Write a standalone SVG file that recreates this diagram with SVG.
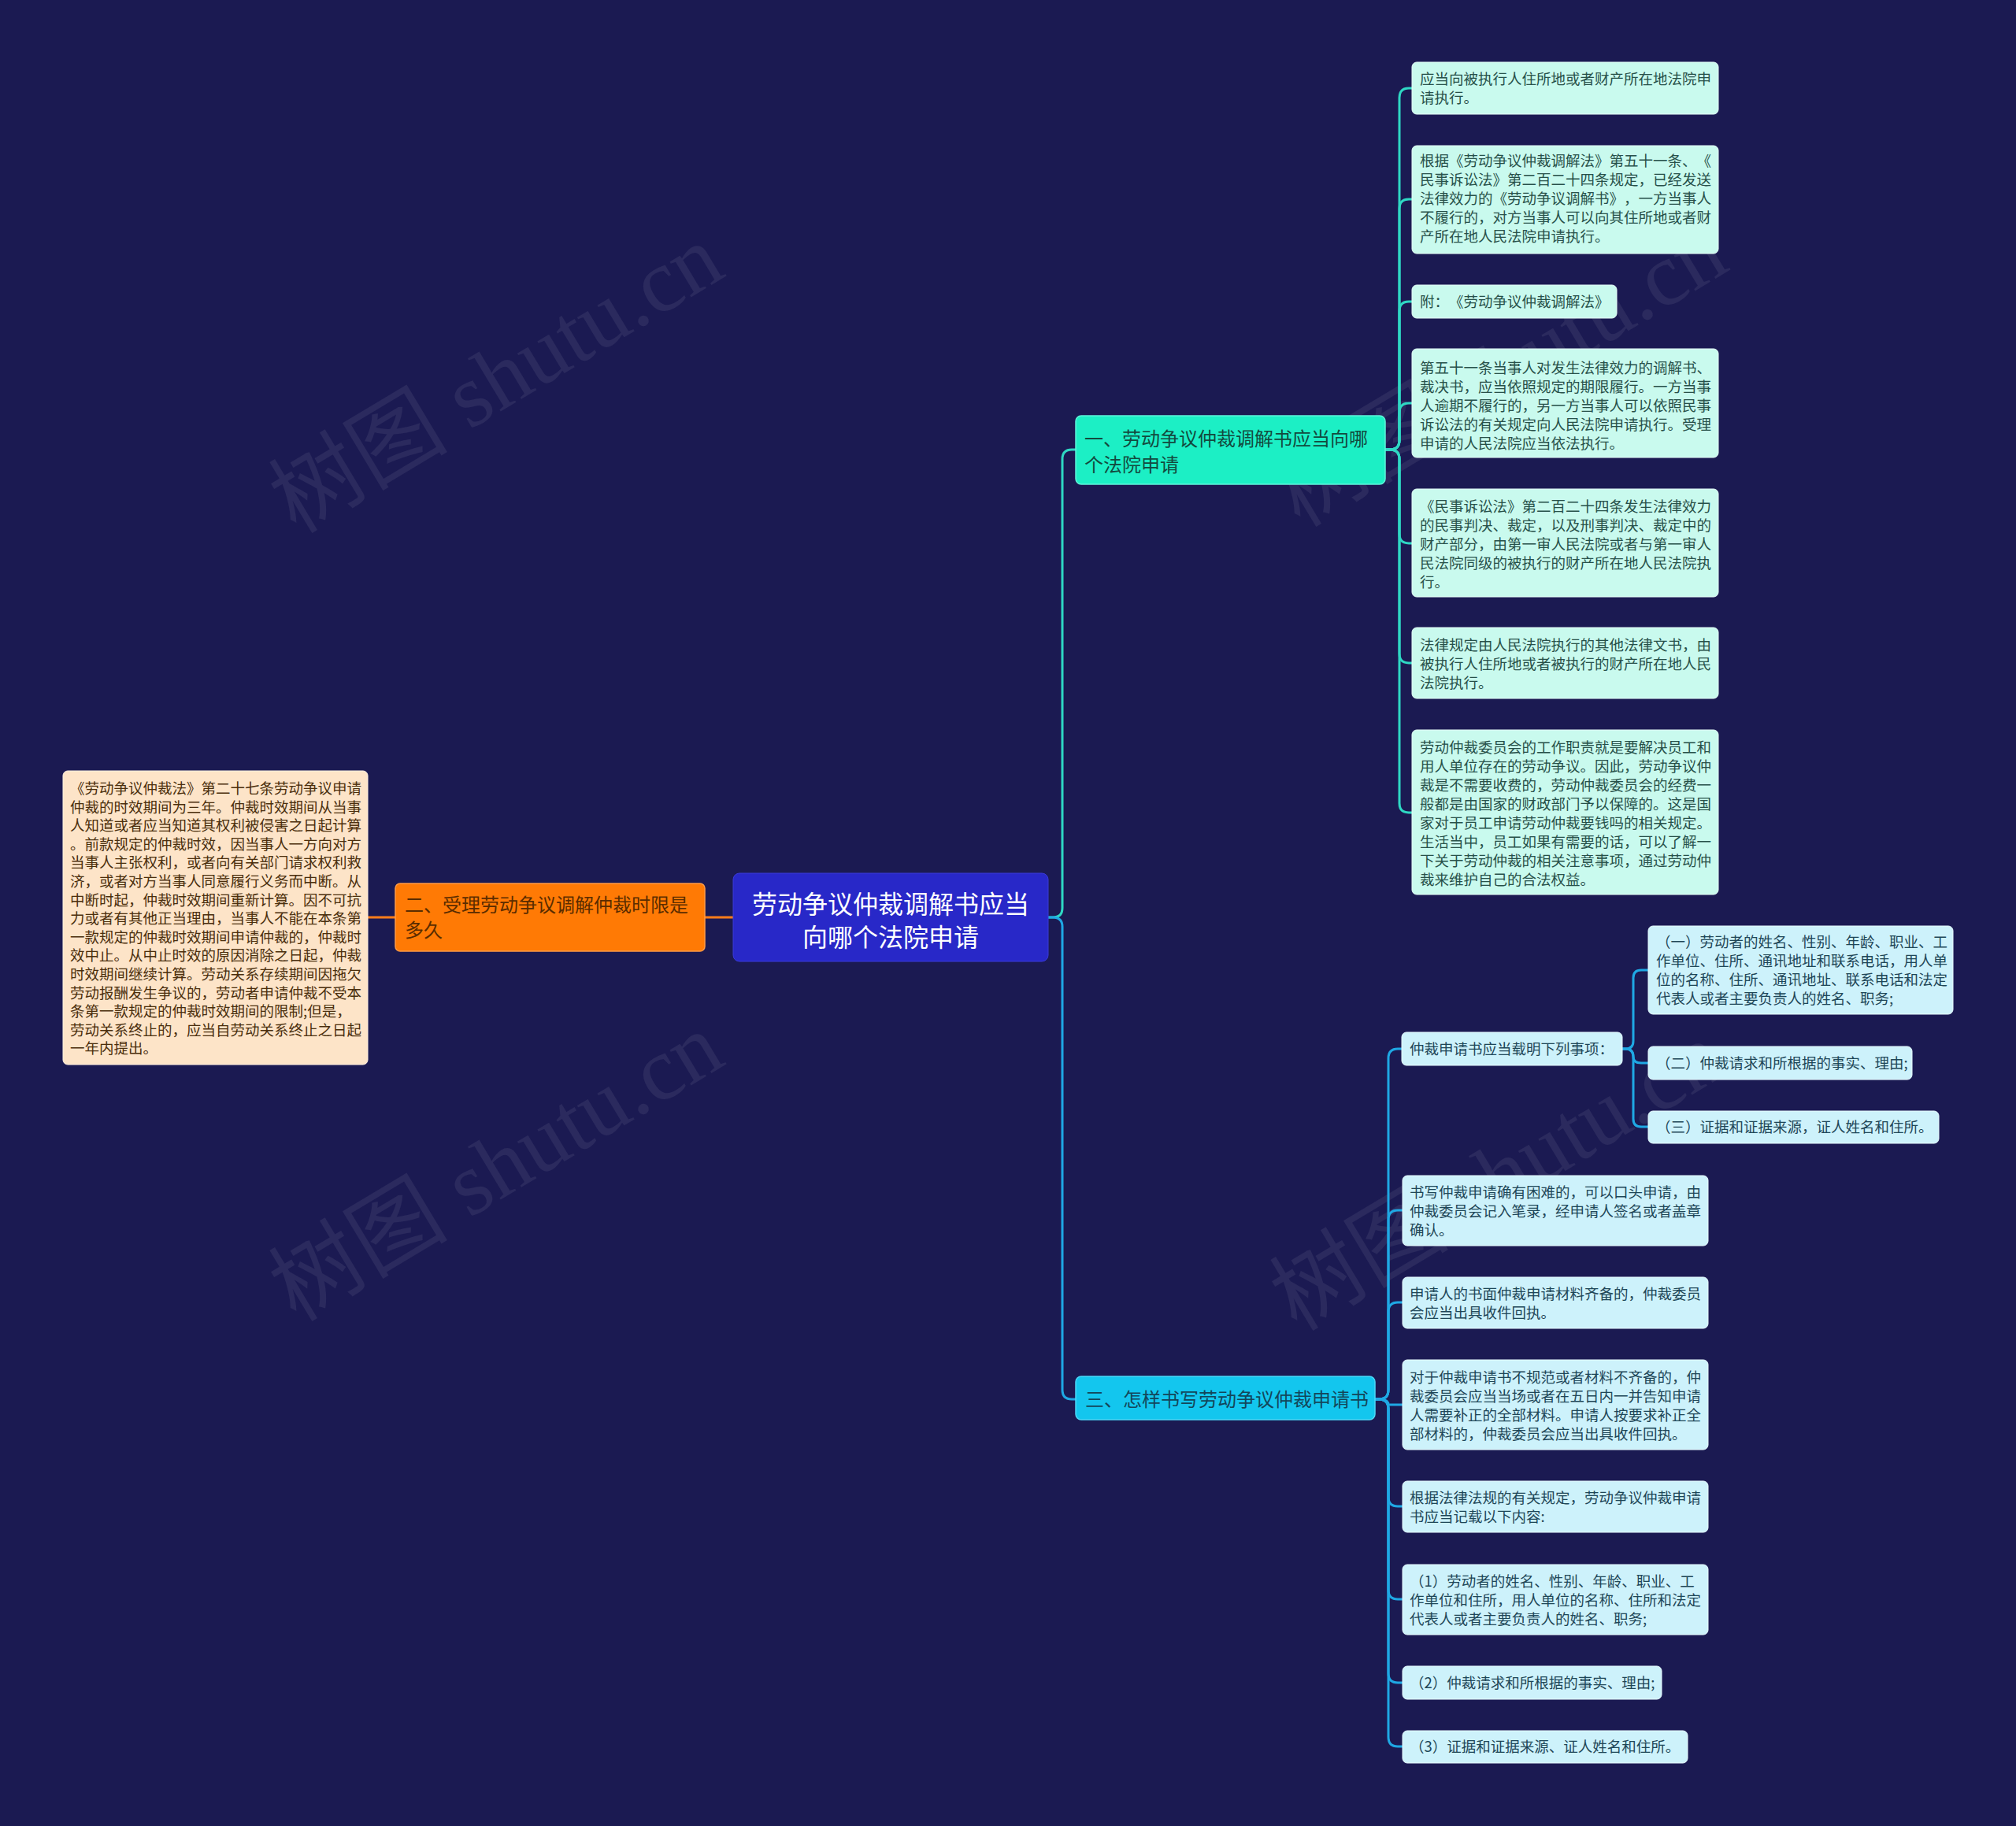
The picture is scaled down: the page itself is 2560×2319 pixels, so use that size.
<svg xmlns="http://www.w3.org/2000/svg" width="2560" height="2319" viewBox="0 0 2560 2319">
<style>
text{font-family:"Noto Sans CJK SC","Noto Sans",sans-serif;text-spacing-trim:space-all}
.wm{font-family:"Liberation Serif","Noto Sans CJK SC",serif;font-size:114px;fill:#ffffff;fill-opacity:0.07}
.t1{font-size:18.5px;fill:#275049}
.t3{font-size:18.5px;fill:#1e4657}
.tb{font-size:18.5px;fill:#4a2e0c}
.k1{fill:#c9faee;stroke:#e6fff8;stroke-width:1}
.k3{fill:#cdf2fb;stroke:#e8fbff;stroke-width:1}
.c1{fill:none;stroke:#2fd8c4;stroke-width:3}
.c3{fill:none;stroke:#1fa8e4;stroke-width:3}
.co{fill:none;stroke:#ff7d1a;stroke-width:3}
</style>
<rect width="2560" height="2319" fill="#1b1a52"/>
<g id="watermarks">
<text class="wm" transform="translate(650,514) rotate(-31)" text-anchor="middle">树图 shutu.cn</text>
<text class="wm" transform="translate(650,1515) rotate(-31)" text-anchor="middle">树图 shutu.cn</text>
<text class="wm" transform="translate(1925,506) rotate(-31)" text-anchor="middle">树图 shutu.cn</text>
<text class="wm" transform="translate(1921,1527) rotate(-31)" text-anchor="middle">树图 shutu.cn</text>
</g>
<g id="connectors">
<path class="co" d="M502 1165 H467"/>
<path class="co" d="M931 1165 H895"/>
<path class="c1" d="M1331 1165 H1337 Q1349 1165 1349 1153 V583 Q1349 571 1361 571 H1366"/>
<path class="c3" d="M1331 1165 H1337 Q1349 1165 1349 1177 V1765 Q1349 1777 1361 1777 H1366"/>
<path class="c1" d="M1759 571 H1765 Q1777 571 1777 559 V124 Q1777 112 1789 112 H1793"/>
<path class="c1" d="M1759 571 H1765 Q1777 571 1777 559 V265 Q1777 253 1789 253 H1793"/>
<path class="c1" d="M1759 571 H1765 Q1777 571 1777 559 V395 Q1777 383 1789 383 H1793"/>
<path class="c1" d="M1759 571 H1765 Q1777 571 1777 559 V524 Q1777 512 1789 512 H1793"/>
<path class="c1" d="M1759 571 H1765 Q1777 571 1777 583 V678 Q1777 690 1789 690 H1793"/>
<path class="c1" d="M1759 571 H1765 Q1777 571 1777 583 V830 Q1777 842 1789 842 H1793"/>
<path class="c1" d="M1759 571 H1765 Q1777 571 1777 583 V1020 Q1777 1032 1789 1032 H1793"/>
<path class="c3" d="M1746 1777 H1751 Q1763 1777 1763 1765 V1344 Q1763 1332 1775 1332 H1780"/>
<path class="c3" d="M1746 1777 H1751 Q1763 1777 1763 1765 V1549 Q1763 1537 1775 1537 H1781"/>
<path class="c3" d="M1746 1777 H1751 Q1763 1777 1763 1765 V1666 Q1763 1654 1775 1654 H1781"/>
<path class="c3" d="M1746 1777 H1751 Q1763 1777 1763 1784 H1781"/>
<path class="c3" d="M1746 1777 H1751 Q1763 1777 1763 1789 V1901 Q1763 1913 1775 1913 H1781"/>
<path class="c3" d="M1746 1777 H1751 Q1763 1777 1763 1789 V2019 Q1763 2031 1775 2031 H1781"/>
<path class="c3" d="M1746 1777 H1751 Q1763 1777 1763 1789 V2125 Q1763 2137 1775 2137 H1781"/>
<path class="c3" d="M1746 1777 H1751 Q1763 1777 1763 1789 V2206 Q1763 2218 1775 2218 H1781"/>
<path class="c3" d="M2060 1332 H2064 Q2074 1332 2074 1322 V1242 Q2074 1232 2084 1232 H2093"/>
<path class="c3" d="M2060 1332 H2064 Q2074 1332 2074 1342 Q2074 1350 2084 1350 H2093"/>
<path class="c3" d="M2060 1332 H2064 Q2074 1332 2074 1342 V1421 Q2074 1431 2084 1431 H2093"/>
</g>
<g id="center">
<rect x="931" y="1109" width="400" height="112" rx="8" fill="#2828c8" stroke="#3a3ad8" stroke-width="1"/>
<text x="1131" y="1160" font-size="32" fill="#ffffff" text-anchor="middle">劳动争议仲裁调解书应当</text>
<text x="1131" y="1202" font-size="32" fill="#ffffff" text-anchor="middle">向哪个法院申请</text>
</g>
<g id="b2">
<rect x="502" y="1122" width="393" height="86" rx="6" fill="#ff7a05" stroke="#ff9a45" stroke-width="1.5"/>
<text x="514" y="1158" font-size="24" fill="#5a2c00">二、受理劳动争议调解仲裁时限是</text>
<text x="514" y="1190" font-size="24" fill="#5a2c00">多久</text>
</g>
<g id="b2k">
<rect x="80" y="979" width="387" height="373" rx="6" fill="#fde4c8" stroke="#fff0e0" stroke-width="1"/>
<text class="tb" x="89" y="1008">《劳动争议仲裁法》第二十七条劳动争议申请</text>
<text class="tb" x="89" y="1031.6">仲裁的时效期间为三年。仲裁时效期间从当事</text>
<text class="tb" x="89" y="1055.2">人知道或者应当知道其权利被侵害之日起计算</text>
<text class="tb" x="89" y="1078.8">。前款规定的仲裁时效，因当事人一方向对方</text>
<text class="tb" x="89" y="1102.4">当事人主张权利，或者向有关部门请求权利救</text>
<text class="tb" x="89" y="1126">济，或者对方当事人同意履行义务而中断。从</text>
<text class="tb" x="89" y="1149.6">中断时起，仲裁时效期间重新计算。因不可抗</text>
<text class="tb" x="89" y="1173.2">力或者有其他正当理由，当事人不能在本条第</text>
<text class="tb" x="89" y="1196.8">一款规定的仲裁时效期间申请仲裁的，仲裁时</text>
<text class="tb" x="89" y="1220.4">效中止。从中止时效的原因消除之日起，仲裁</text>
<text class="tb" x="89" y="1244">时效期间继续计算。劳动关系存续期间因拖欠</text>
<text class="tb" x="89" y="1267.6">劳动报酬发生争议的，劳动者申请仲裁不受本</text>
<text class="tb" x="89" y="1291.2">条第一款规定的仲裁时效期间的限制;但是，</text>
<text class="tb" x="89" y="1314.8">劳动关系终止的，应当自劳动关系终止之日起</text>
<text class="tb" x="89" y="1338.4">一年内提出。</text>
</g>
<g id="b1">
<rect x="1366" y="528" width="393" height="87" rx="7" fill="#1cefc5" stroke="#5ff5da" stroke-width="1.5"/>
<text x="1377" y="566" font-size="24" fill="#134a3e">一、劳动争议仲裁调解书应当向哪</text>
<text x="1377" y="599" font-size="24" fill="#134a3e">个法院申请</text>
</g>
<g id="b1k1">
<rect class="k1" x="1793" y="79" width="389" height="66" rx="6"/>
<text class="t1" x="1803" y="107">应当向被执行人住所地或者财产所在地法院申</text>
<text class="t1" x="1803" y="131">请执行。</text>
</g>
<g id="b1k2">
<rect class="k1" x="1793" y="185" width="389" height="137" rx="6"/>
<text class="t1" x="1803" y="211">根据《劳动争议仲裁调解法》第五十一条、《</text>
<text class="t1" x="1803" y="235">民事诉讼法》第二百二十四条规定，已经发送</text>
<text class="t1" x="1803" y="259">法律效力的《劳动争议调解书》，一方当事人</text>
<text class="t1" x="1803" y="283">不履行的，对方当事人可以向其住所地或者财</text>
<text class="t1" x="1803" y="307">产所在地人民法院申请执行。</text>
</g>
<g id="b1k3">
<rect class="k1" x="1793" y="362" width="260" height="42" rx="6"/>
<text class="t1" x="1803" y="390">附：《劳动争议仲裁调解法》</text>
</g>
<g id="b1k4">
<rect class="k1" x="1793" y="443" width="389" height="138" rx="6"/>
<text class="t1" x="1803" y="474">第五十一条当事人对发生法律效力的调解书、</text>
<text class="t1" x="1803" y="498">裁决书，应当依照规定的期限履行。一方当事</text>
<text class="t1" x="1803" y="522">人逾期不履行的，另一方当事人可以依照民事</text>
<text class="t1" x="1803" y="546">诉讼法的有关规定向人民法院申请执行。受理</text>
<text class="t1" x="1803" y="570">申请的人民法院应当依法执行。</text>
</g>
<g id="b1k5">
<rect class="k1" x="1793" y="621" width="389" height="137" rx="6"/>
<text class="t1" x="1803" y="650">《民事诉讼法》第二百二十四条发生法律效力</text>
<text class="t1" x="1803" y="674">的民事判决、裁定，以及刑事判决、裁定中的</text>
<text class="t1" x="1803" y="698">财产部分，由第一审人民法院或者与第一审人</text>
<text class="t1" x="1803" y="722">民法院同级的被执行的财产所在地人民法院执</text>
<text class="t1" x="1803" y="746">行。</text>
</g>
<g id="b1k6">
<rect class="k1" x="1793" y="797" width="389" height="90" rx="6"/>
<text class="t1" x="1803" y="826">法律规定由人民法院执行的其他法律文书，由</text>
<text class="t1" x="1803" y="850">被执行人住所地或者被执行的财产所在地人民</text>
<text class="t1" x="1803" y="874">法院执行。</text>
</g>
<g id="b1k7">
<rect class="k1" x="1793" y="927" width="389" height="209" rx="6"/>
<text class="t1" x="1803" y="956">劳动仲裁委员会的工作职责就是要解决员工和</text>
<text class="t1" x="1803" y="980">用人单位存在的劳动争议。因此，劳动争议仲</text>
<text class="t1" x="1803" y="1004">裁是不需要收费的，劳动仲裁委员会的经费一</text>
<text class="t1" x="1803" y="1028">般都是由国家的财政部门予以保障的。这是国</text>
<text class="t1" x="1803" y="1052">家对于员工申请劳动仲裁要钱吗的相关规定。</text>
<text class="t1" x="1803" y="1076">生活当中，员工如果有需要的话，可以了解一</text>
<text class="t1" x="1803" y="1100">下关于劳动仲裁的相关注意事项，通过劳动仲</text>
<text class="t1" x="1803" y="1124">裁来维护自己的合法权益。</text>
</g>
<g id="b3">
<rect x="1366" y="1748" width="380" height="55" rx="7" fill="#13c6ee" stroke="#4cd8f8" stroke-width="1.5"/>
<text x="1378" y="1786" font-size="24" fill="#13465a">三、怎样书写劳动争议仲裁申请书</text>
</g>
<g id="b3a">
<rect class="k3" x="1780" y="1311" width="280" height="42" rx="6"/>
<text class="t3" x="1790" y="1339">仲裁申请书应当载明下列事项：</text>
</g>
<g id="b3a1">
<rect class="k3" x="2093" y="1176" width="387" height="112" rx="6"/>
<text class="t3" x="2103" y="1203">（一）劳动者的姓名、性别、年龄、职业、工</text>
<text class="t3" x="2103" y="1227">作单位、住所、通讯地址和联系电话，用人单</text>
<text class="t3" x="2103" y="1251">位的名称、住所、通讯地址、联系电话和法定</text>
<text class="t3" x="2103" y="1275">代表人或者主要负责人的姓名、职务;</text>
</g>
<g id="b3a2">
<rect class="k3" x="2093" y="1329" width="335" height="42" rx="6"/>
<text class="t3" x="2103" y="1357">（二）仲裁请求和所根据的事实、理由;</text>
</g>
<g id="b3a3">
<rect class="k3" x="2093" y="1411" width="369" height="41" rx="6"/>
<text class="t3" x="2103" y="1438">（三）证据和证据来源，证人姓名和住所。</text>
</g>
<g id="b3b">
<rect class="k3" x="1781" y="1493" width="388" height="89" rx="6"/>
<text class="t3" x="1790" y="1521">书写仲裁申请确有困难的，可以口头申请，由</text>
<text class="t3" x="1790" y="1545">仲裁委员会记入笔录，经申请人签名或者盖章</text>
<text class="t3" x="1790" y="1569">确认。</text>
</g>
<g id="b3c">
<rect class="k3" x="1781" y="1622" width="388" height="65" rx="6"/>
<text class="t3" x="1790" y="1650">申请人的书面仲裁申请材料齐备的，仲裁委员</text>
<text class="t3" x="1790" y="1674">会应当出具收件回执。</text>
</g>
<g id="b3d">
<rect class="k3" x="1781" y="1727" width="388" height="114" rx="6"/>
<text class="t3" x="1790" y="1756">对于仲裁申请书不规范或者材料不齐备的，仲</text>
<text class="t3" x="1790" y="1780">裁委员会应当当场或者在五日内一并告知申请</text>
<text class="t3" x="1790" y="1804">人需要补正的全部材料。申请人按要求补正全</text>
<text class="t3" x="1790" y="1828">部材料的，仲裁委员会应当出具收件回执。</text>
</g>
<g id="b3e">
<rect class="k3" x="1781" y="1881" width="388" height="65" rx="6"/>
<text class="t3" x="1790" y="1909">根据法律法规的有关规定，劳动争议仲裁申请</text>
<text class="t3" x="1790" y="1933">书应当记载以下内容:</text>
</g>
<g id="b3f">
<rect class="k3" x="1781" y="1987" width="388" height="89" rx="6"/>
<text class="t3" x="1790" y="2015">（1）劳动者的姓名、性别、年龄、职业、工</text>
<text class="t3" x="1790" y="2039">作单位和住所，用人单位的名称、住所和法定</text>
<text class="t3" x="1790" y="2063">代表人或者主要负责人的姓名、职务;</text>
</g>
<g id="b3g">
<rect class="k3" x="1781" y="2116" width="329" height="42" rx="6"/>
<text class="t3" x="1790" y="2144">（2）仲裁请求和所根据的事实、理由;</text>
</g>
<g id="b3h">
<rect class="k3" x="1781" y="2198" width="362" height="41" rx="6"/>
<text class="t3" x="1790" y="2225">（3）证据和证据来源、证人姓名和住所。</text>
</g>
</svg>
